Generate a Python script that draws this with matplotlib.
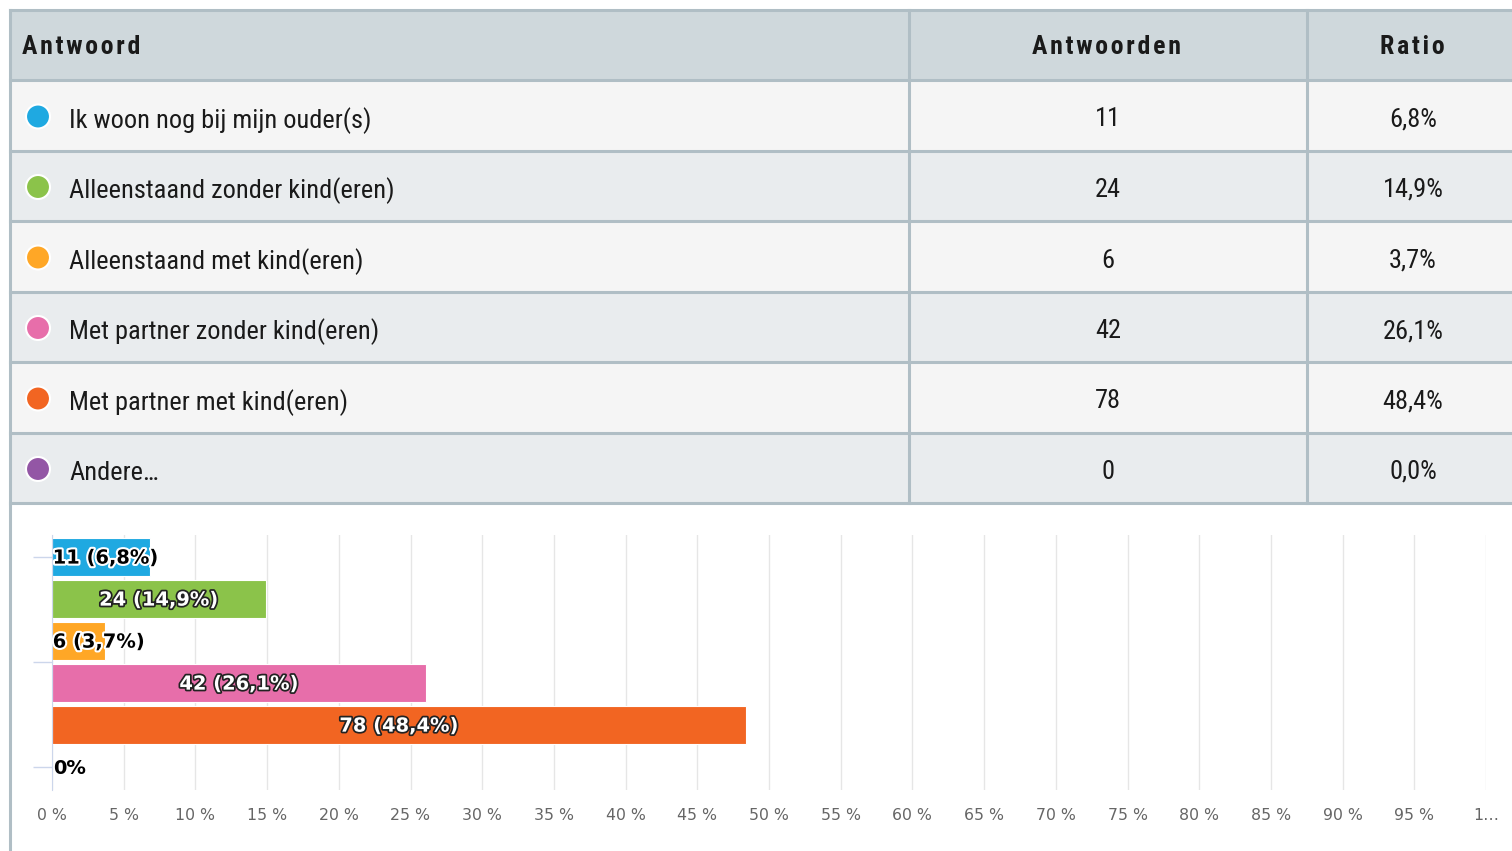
import matplotlib.pyplot as plt
import matplotlib.patheffects as pe
from matplotlib import font_manager
from matplotlib.patches import Rectangle, Circle

# Gegevens
antwoorden = ['Ik woon nog bij mijn ouder(s)', 'Alleenstaand zonder kind(eren)',
              'Alleenstaand met kind(eren)', 'Met partner zonder kind(eren)',
              'Met partner met kind(eren)', 'Andere...']
aantallen = [11, 24, 6, 42, 78, 0]
ratio = [6.8, 14.9, 3.7, 26.1, 48.4, 0.0]
kleuren = ['#1fa9e1', '#8bc34a', '#ffa726', '#e76eaa', '#f26522', '#9356a5']
x_ticks = list(range(0, 101, 5))
x_labels = [f'{v} %' for v in x_ticks[:-1]] + ['1…']

# smal lettertype zoeken
beschikbaar = {f.name for f in font_manager.fontManager.ttflist}
smal = 'DejaVu Sans'
for naam in ['Liberation Sans Narrow', 'Roboto Condensed', 'Open Sans Condensed',
             'Noto Sans Condensed', 'DejaVu Sans Condensed']:
    if naam in beschikbaar:
        smal = naam
        break

W, H = 1512, 851
fig = plt.figure(figsize=(W / 100, H / 100), dpi=100)
bg = fig.add_axes([0, 0, 1, 1])
bg.set_xlim(0, W)
bg.set_ylim(H, 0)
bg.axis('off')

rand = '#b0bec5'
rij_grenzen = [10, 80, 151, 221, 292, 362, 433, 503]
kol = [10, 909, 1307, W + 5]

# achtergronden
bg.add_patch(Rectangle((10, 10), W, 70, color='#cfd8dc', zorder=0))
for i in range(6):
    y0, y1 = rij_grenzen[i + 1], rij_grenzen[i + 2]
    c = '#f5f5f5' if i % 2 == 0 else '#e9ecee'
    bg.add_patch(Rectangle((10, y0), W, y1 - y0, color=c, zorder=0))

for y in rij_grenzen:
    bg.plot([10, W], [y, y], color=rand, lw=2.2, zorder=1)
for x in kol[1:3]:
    bg.plot([x, x], [10, 503], color=rand, lw=2.2, zorder=1)
bg.plot([10, 10], [10, H], color=rand, lw=2.2, zorder=1)

kop = dict(fontsize=18.5, fontweight='bold', family=smal, color='#1a1a1a', va='center')
bg.text(22, 47, 'A n t w o o r d'.replace(' ', '\u200a'), ha='left', **kop)
bg.text(1107, 47, 'A n t w o o r d e n'.replace(' ', '\u200a'), ha='center', **kop)
bg.text(1412, 47, 'R a t i o'.replace(' ', '\u200a'), ha='center', **kop)

for i in range(6):
    yc = (rij_grenzen[i + 1] + rij_grenzen[i + 2]) / 2 + 2
    bg.add_patch(Circle((38, yc - 1), 12, facecolor=kleuren[i], edgecolor='white',
                        lw=1.5, zorder=3))
    tekst = antwoorden[i].replace('...', '…')
    bg.text(69, yc + 3, tekst, fontsize=19, family=smal, color='#1a1a1a', va='center', ha='left')
    bg.text(1108, yc + 2, str(aantallen[i]), fontsize=19, family=smal, color='#1a1a1a',
            va='center', ha='center')
    bg.text(1413, yc + 2, f'{ratio[i]:.1f}%'.replace('.', ','), fontsize=19, family=smal,
            color='#1a1a1a', va='center', ha='center')

# staafdiagram
ax = fig.add_axes([52 / W, 1 - 790 / H, (1486 - 52) / W, (790 - 535) / H])
ax.set_facecolor('none')
pos = list(range(len(ratio)))
ax.barh(pos, ratio, height=0.9, color=kleuren, edgecolor='white', lw=0.8, zorder=2)
ax.set_xlim(0, 100)
ax.set_ylim(5.55, -0.52)
ax.set_xticks(x_ticks)
ax.set_xticklabels(x_labels, color='#666666', fontsize=11.3)
ax.tick_params(axis='x', length=0, pad=13)
ax.set_yticks([0, 2.5, 5])
ax.set_yticklabels([])
ax.tick_params(axis='y', length=14, color='#ccd6eb', width=1)
ax.grid(axis='x', color='#e6e6e6', lw=1, zorder=0)
for s in ['top', 'right', 'bottom']:
    ax.spines[s].set_visible(False)
ax.spines['left'].set_color('#ccd6eb')

for i, (n, r) in enumerate(zip(aantallen, ratio)):
    lab = f'{n} ({r:.1f}%)'.replace('.', ',')
    if r == 0:
        ax.text(0.05, i + 0.03, '0%', fontsize=14, fontweight='bold', color='black',
                va='center', ha='left', zorder=4)
    elif r < 10:
        ax.text(0.05, i + 0.03, lab, fontsize=14, fontweight='bold', color='black',
                va='center', ha='left', zorder=4,
                path_effects=[pe.withStroke(linewidth=3, foreground='white')])
    else:
        ax.text(r / 2, i + 0.03, lab, fontsize=14, fontweight='bold', color='white',
                va='center', ha='center', zorder=4,
                path_effects=[pe.withStroke(linewidth=2.5, foreground='#222222')])

fig.savefig('out.png', dpi=100)
